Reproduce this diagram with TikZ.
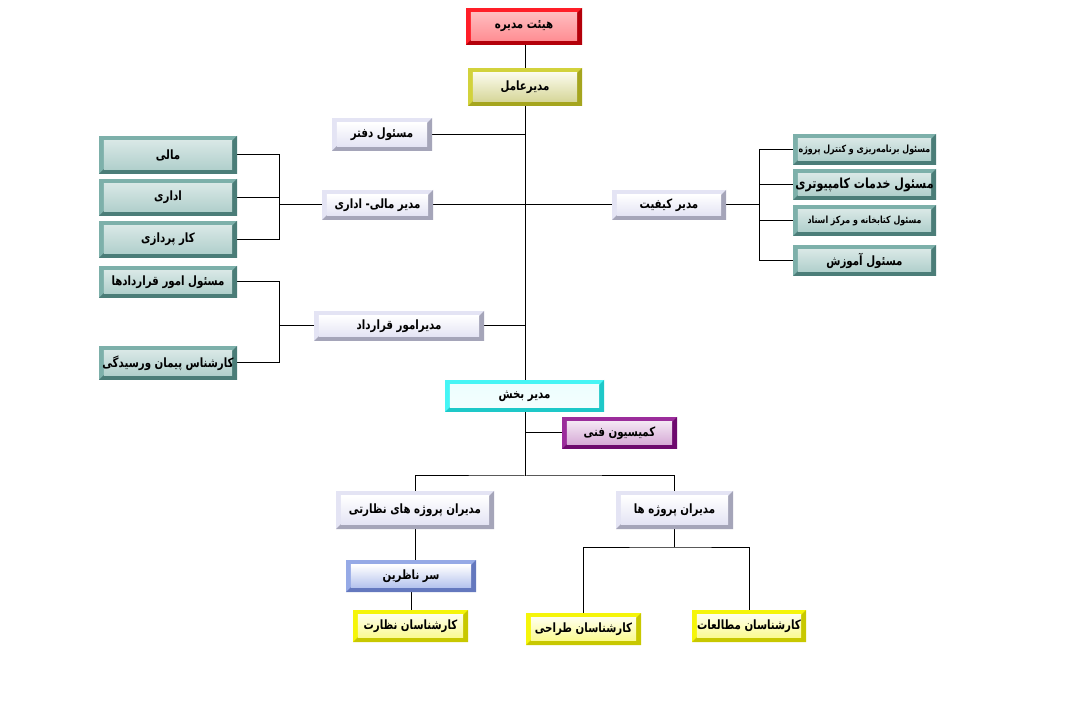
\documentclass[tikz,border=0pt]{standalone}
\usepackage{fontspec}
\newfontfamily\arabicfont[Script=Arabic,FakeStretch=0.8]{DejaVu Sans}
\TeXXeTstate=1
\pgfdeclarelayer{bg}
\pgfsetlayers{bg,main}
\definecolor{rL}{HTML}{FF1E28}\definecolor{rD}{HTML}{B4000A}
\definecolor{oL}{HTML}{D2D23C}\definecolor{oD}{HTML}{A5A51E}
\definecolor{lL}{HTML}{E4E4F4}\definecolor{lD}{HTML}{A5A5B9}
\definecolor{tL}{HTML}{7DB0AA}\definecolor{tD}{HTML}{4B7D78}
\definecolor{cL}{HTML}{46F5F5}\definecolor{cD}{HTML}{1EC8C8}
\definecolor{pL}{HTML}{9B2D9B}\definecolor{pD}{HTML}{6E0A6E}
\definecolor{bL}{HTML}{96AAE6}\definecolor{bD}{HTML}{6478BE}
\definecolor{yL}{HTML}{F5F50A}\definecolor{yD}{HTML}{C8C800}
\tikzset{
  bev/.style n args={5}{rectangle, inner sep=0pt, draw=none, fill=#1, font=\arabicfont\bfseries\fontsize{9.6}{11}\selectfont,
    path picture={
      \def\bw{3.6pt}
      \fill[#2] (path picture bounding box.south west) -- (path picture bounding box.south east) -- (path picture bounding box.north east)
        -- ([xshift=-\bw,yshift=-\bw]path picture bounding box.north east) -- ([xshift=-\bw,yshift=\bw]path picture bounding box.south east)
        -- ([xshift=\bw,yshift=\bw]path picture bounding box.south west) -- cycle;
      \shade[top color=#3, middle color=#4, bottom color=#5]
        ([xshift=\bw,yshift=\bw]path picture bounding box.south west) rectangle ([xshift=-\bw,yshift=-\bw]path picture bounding box.north east);
    }},
  redbox/.style={bev={rL}{rD}{rL!30!white}{white}{rL!50!white}},
  olivebox/.style={bev={oL}{oD}{oL!10!white}{white}{oD!45!white}},
  lavbox/.style={bev={lL}{lD}{white}{lL!30!white}{lL}},
  tealbox/.style={bev={tL}{tD}{tL!30!white}{white}{tL!60!white}},
  cyanbox/.style={bev={cL}{cD}{cL!10!white}{white}{cL!6!white}},
  purplebox/.style={bev={pL}{pD}{pL!12!white}{white}{pL!40!white}},
  bluebox/.style={bev={bL}{bD}{white}{bL!25!white}{bL!70!white}},
  yellowbox/.style={bev={yL}{yD}{yL!8!white}{yL!20!white}{yL!45!white}},
  conn/.style={draw=black, line width=0.75pt},
  small/.style={font=\arabicfont\bfseries\fontsize{7.4}{8}\selectfont},
  big/.style={font=\arabicfont\bfseries\fontsize{10.4}{12}\selectfont}
}
\newcommand\orgbox[7]{\node[#6, minimum width={(#4-#2)*0.75pt}, minimum height={(#5-#3)*0.75pt}] (#1) at ({(#2+#4)/2},{(#3+#5)/2}) {#7};}
\begin{document}
\begin{tikzpicture}[x=0.75pt,y=-0.75pt]
\begin{pgfonlayer}{bg}
\fill[white] (0,0) rectangle (1065,720);
\end{pgfonlayer}
\useasboundingbox (0,0) rectangle (1065,720);
\orgbox{hey}{466}{8}{582}{45}{redbox}{\beginR هیئت مدیره\endR}
\orgbox{amel}{468}{68}{582}{106}{olivebox}{\beginR مدیرعامل\endR}
\orgbox{daftar}{332}{118}{432}{151}{lavbox}{\beginR مسئول دفتر\endR}
\orgbox{mali}{99}{136}{237}{174}{tealbox}{\beginR مالی\endR}
\orgbox{edari}{99}{179}{237}{216}{tealbox}{\beginR اداری\endR}
\orgbox{kar}{99}{221}{237}{258}{tealbox}{\beginR کار پردازی\endR}
\orgbox{maliedari}{322}{190}{433}{220}{lavbox}{\beginR مدیر مالی- اداری\endR}
\orgbox{keyfiat}{612}{190}{726}{220}{lavbox}{\beginR مدیر کیفیت\endR}
\orgbox{barname}{793}{134}{936}{165}{tealbox,small}{\beginR مسئول برنامه‌ریزی و کنترل پروژه\endR}
\orgbox{khadamat}{793}{169}{936}{200}{tealbox,big}{\beginR مسئول خدمات کامپیوتری\endR}
\orgbox{ketab}{793}{205}{936}{236}{tealbox,small}{\beginR مسئول کتابخانه و مرکز اسناد\endR}
\orgbox{amoozesh}{793}{245}{936}{276}{tealbox}{\beginR مسئول آموزش\endR}
\orgbox{gharardadha}{99}{266}{237}{298}{tealbox}{\beginR مسئول امور قراردادها\endR}
\orgbox{peyman}{99}{346}{237}{380}{tealbox}{\beginR کارشناس پیمان ورسیدگی\endR}
\orgbox{modirghar}{314}{311}{484}{341}{lavbox}{\beginR مدیرامور قرارداد\endR}
\orgbox{bakhsh}{445}{380}{604}{412}{cyanbox}{\beginR مدیر بخش\endR}
\orgbox{komision}{562}{417}{677}{449}{purplebox}{\beginR کمیسیون فنی\endR}
\orgbox{nezarati}{336}{491}{494}{529}{lavbox}{\beginR مدیران پروژه های نظارتی\endR}
\orgbox{projeha}{616}{491}{733}{529}{lavbox}{\beginR مدیران پروژه ها\endR}
\orgbox{sarnazer}{346}{560}{476}{592}{bluebox}{\beginR سر ناظرین\endR}
\orgbox{nezarat}{353}{610}{468}{642}{yellowbox}{\beginR کارشناسان نظارت\endR}
\orgbox{tarahi}{526}{613}{641}{645}{yellowbox}{\beginR کارشناسان طراحی\endR}
\orgbox{motaleat}{692}{610}{806}{642}{yellowbox}{\beginR کارشناسان  مطالعات\endR}
\coordinate (hb) at (525,476);
\coordinate (lbus) at (279,205);
\coordinate (rbus) at (759,205);
\coordinate (cbus) at (279,326);
\coordinate (pb) at (675,547);
\begin{pgfonlayer}{bg}
\draw[conn] (hey.south -| hb) -- (amel.north -| hb);
\draw[conn] (amel.south -| hb) -- (hb);
\draw[conn] (daftar.east) -- (daftar.east -| hb);
\draw[conn] (maliedari.east) -- (maliedari.east -| hb);
\draw[conn] (keyfiat.west) -- (keyfiat.west -| hb);
\draw[conn] (modirghar.east) -- (modirghar.east -| hb);
\draw[conn] (komision.west) -- (komision.west -| hb);
\draw[conn] (mali.east) -- (mali.east -| lbus) -- (kar.east -| lbus) -- (kar.east);
\draw[conn] (edari.east) -- (edari.east -| lbus);
\draw[conn] (lbus) -- (maliedari.west);
\draw[conn] (keyfiat.east) -- (rbus);
\draw[conn] (barname.west) -- (barname.west -| rbus) -- (amoozesh.west -| rbus) -- (amoozesh.west);
\draw[conn] (khadamat.west) -- (khadamat.west -| rbus);
\draw[conn] (ketab.west) -- (ketab.west -| rbus);
\draw[conn] (gharardadha.east) -- (gharardadha.east -| cbus) -- (peyman.east -| cbus) -- (peyman.east);
\draw[conn] (cbus) -- (modirghar.west);
\draw[conn] (nezarati.north) |- (hb) -| (projeha.north);
\draw[conn] (nezarati.south) -- (nezarati.south |- sarnazer.north);
\draw[conn] (sarnazer.south) -- (sarnazer.south |- nezarat.north);
\draw[conn] (projeha.south) -- (projeha.south |- pb);
\draw[conn] (tarahi.north) |- (projeha.south |- pb) -| (motaleat.north);
\end{pgfonlayer}
\end{tikzpicture}
\end{document}
